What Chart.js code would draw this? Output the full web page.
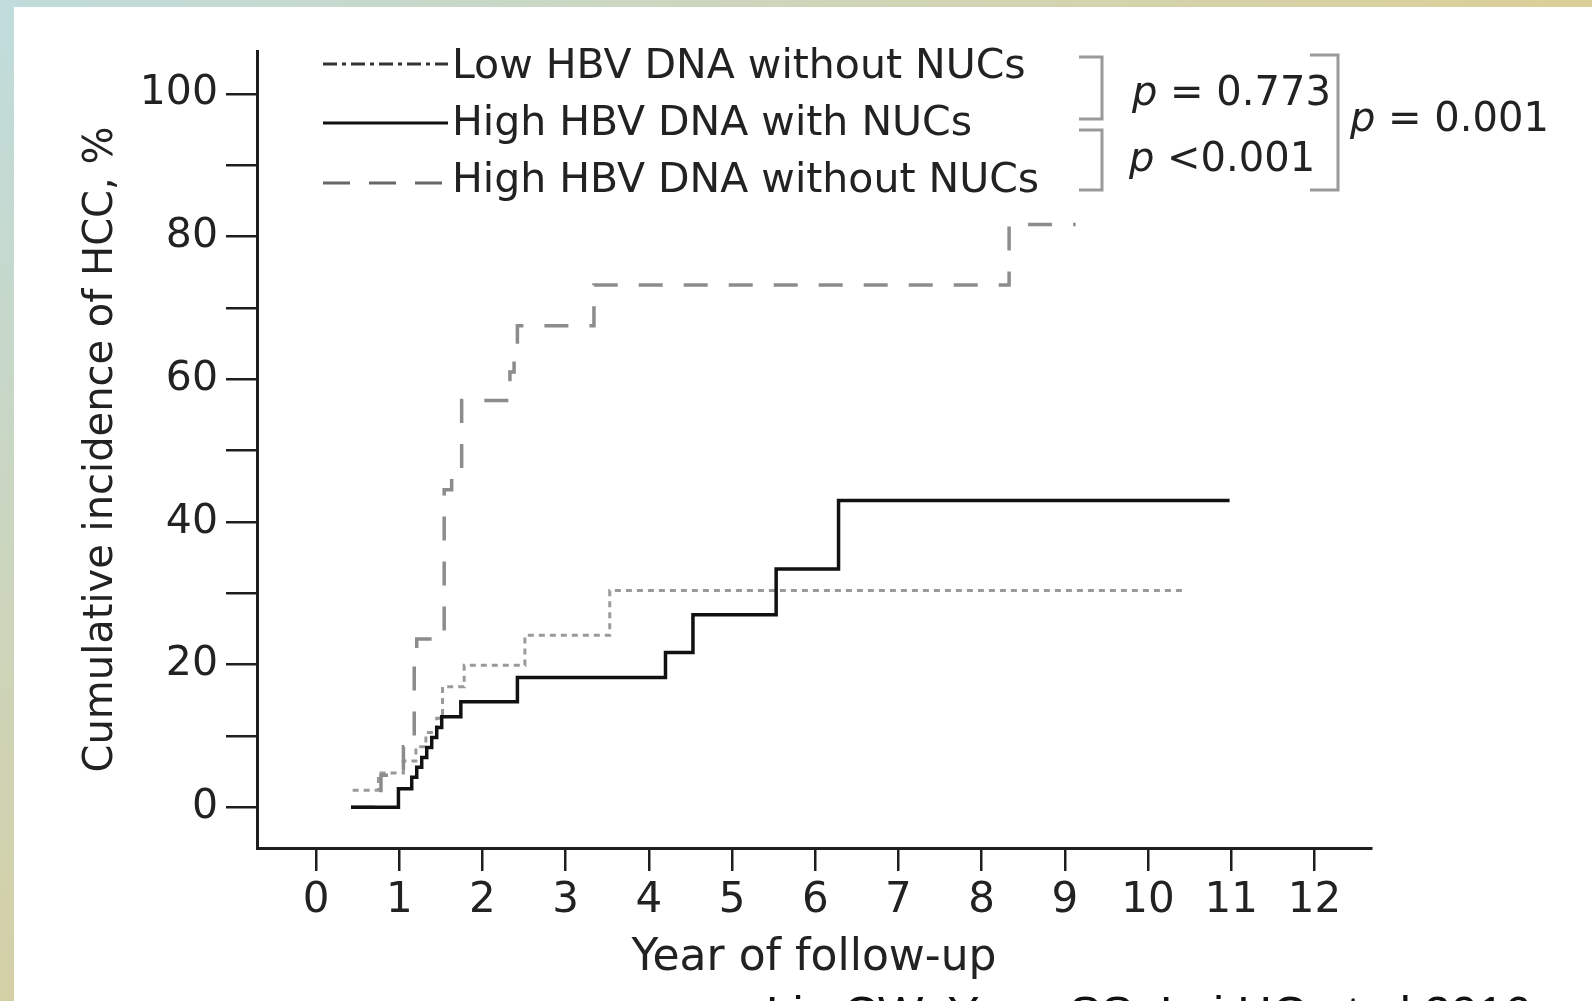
<!DOCTYPE html>
<html>
<head>
<meta charset="utf-8">
<script src="https://cdn.jsdelivr.net/npm/chart.js@4.4.1/dist/chart.umd.min.js"></script>
<style>
  html, body { margin: 0; padding: 0; background: #fff; overflow: hidden; }
  canvas { display: block; }
</style>
</head>
<body>
<canvas id="km" width="1592" height="1001"></canvas>
<script>
// series names (legend order)
var seriesNames = ['Low HBV DNA without NUCs', 'High HBV DNA with NUCs', 'High HBV DNA without NUCs'];

// Kaplan-Meier steps: year when the step happens, cumulative %
var lowNoNucYears = [0.44, 0.75, 1.05, 1.20, 1.32, 1.45, 1.52, 1.78, 2.51, 3.53, 10.42];
var lowNoNucPct   = [2.4, 4.8, 6.5, 8.5, 10.5, 12.5, 16.9, 19.9, 24.1, 30.4, 30.4];

var highNucYears = [0.42, 0.99, 1.15, 1.21, 1.27, 1.33, 1.39, 1.45, 1.51, 1.74, 2.42, 4.20, 4.53, 5.53, 6.28, 10.98];
var highNucPct   = [0, 2.6, 4.2, 5.6, 7.0, 8.4, 9.8, 11.2, 12.7, 14.8, 18.2, 21.7, 27.0, 33.4, 43.0, 43.0];

var highNoNucYears = [0.42, 0.78, 1.05, 1.18, 1.21, 1.54, 1.63, 1.75, 2.33, 2.38, 2.42, 3.34, 8.33, 9.13];
var highNoNucPct   = [0, 4.5, 8.5, 22.1, 23.6, 44.5, 46.6, 57.0, 61.0, 64.0, 67.5, 73.2, 81.7, 81.7];

var xTicks = [0, 1, 2, 3, 4, 5, 6, 7, 8, 9, 10, 11, 12];
var yTicks = [0, 10, 20, 30, 40, 50, 60, 70, 80, 90, 100];

var pValues = ['= 0.773', '<0.001', '= 0.001'];
var citation = 'Lin CW, Yang SS, Lai HC et al 2016';

function toPoints(xs, ys) {
  var pts = [];
  for (var i = 0; i < xs.length; i++) {
    pts.push({ x: xs[i], y: ys[i] });
  }
  return pts;
}

var FONT = 'DejaVu Sans';
var TEXT = '#222222';
var AXIS = '#1e1e1e';

// slide frame behind the figure
var framePlugin = {
  id: 'frame',
  beforeDraw: function(chart) {
    var c = chart.ctx, w = chart.width, h = chart.height;
    c.save();
    c.fillStyle = '#ffffff';
    c.fillRect(0, 0, w, h);
    var top = c.createLinearGradient(0, 0, w, 0);
    top.addColorStop(0, '#c0dcdc');
    top.addColorStop(1, '#dccf98');
    c.fillStyle = top;
    c.fillRect(0, 0, w, 7);
    var left = c.createLinearGradient(0, 0, 0, h);
    left.addColorStop(0, '#c0dcdc');
    left.addColorStop(1, '#d4d0a6');
    c.fillStyle = left;
    c.fillRect(0, 0, 14, h);
    c.restore();
  }
};

// legend, p-value brackets and citation
var notesPlugin = {
  id: 'notes',
  afterDraw: function(chart) {
    var c = chart.ctx;
    var ds = chart.data.datasets;
    c.save();

    // legend
    var lineY = [64, 123, 183];
    var textY = [78, 135, 192];
    var sample = [
      { color: '#333', dash: [14, 5, 4, 5] },
      { color: '#111', dash: [] },
      { color: '#666', dash: [27, 19] }
    ];
    for (var i = 0; i < ds.length; i++) {
      c.beginPath();
      c.strokeStyle = sample[i].color;
      c.lineWidth = 3;
      c.setLineDash(sample[i].dash);
      c.moveTo(323, lineY[i]);
      c.lineTo(448, lineY[i]);
      c.stroke();
      c.setLineDash([]);
      c.fillStyle = TEXT;
      c.font = '41px "' + FONT + '"';
      c.textBaseline = 'alphabetic';
      c.textAlign = 'left';
      c.fillText(ds[i].label, 452, textY[i]);
    }

    // brackets
    c.strokeStyle = '#9a9a9a';
    c.lineWidth = 3;
    function bracket(x0, x1, y0, y1) {
      c.beginPath();
      c.moveTo(x0, y0);
      c.lineTo(x1, y0);
      c.lineTo(x1, y1);
      c.lineTo(x0, y1);
      c.stroke();
    }
    bracket(1079, 1102, 57, 119);
    bracket(1079, 1102, 130, 190);
    bracket(1310, 1338, 55, 190);

    // p values
    function pText(str, x, y) {
      c.fillStyle = TEXT;
      c.font = 'italic 40px "' + FONT + '"';
      c.fillText('p', x, y);
      var w = c.measureText('p ').width;
      c.font = '40px "' + FONT + '"';
      c.fillText(str, x + w, y);
    }
    pText(pValues[0], 1132, 105);
    pText(pValues[1], 1129, 171);
    pText(pValues[2], 1350, 131);

    // citation (cut by the bottom edge)
    c.fillStyle = '#111';
    c.font = '48px "Liberation Sans"';
    c.fillText(citation, 766, 1030);

    c.restore();
  }
};

var ctx = document.getElementById('km');

var kmChart = new Chart(ctx, {
  type: 'line',
  data: {
    datasets: [
      {
        label: seriesNames[0],
        data: toPoints(lowNoNucYears, lowNoNucPct),
        borderColor: '#9a9a9a',
        borderWidth: 3,
        borderDash: [6, 5],
        stepped: 'before',
        pointRadius: 0,
        fill: false,
        order: 2
      },
      {
        label: seriesNames[1],
        data: toPoints(highNucYears, highNucPct),
        borderColor: '#111111',
        borderWidth: 3.5,
        stepped: 'before',
        pointRadius: 0,
        fill: false,
        order: 0
      },
      {
        label: seriesNames[2],
        data: toPoints(highNoNucYears, highNoNucPct),
        borderColor: '#8c8c8c',
        borderWidth: 3.5,
        borderDash: [24, 21],
        stepped: 'before',
        pointRadius: 0,
        fill: false,
        order: 1
      }
    ]
  },
  options: {
    responsive: false,
    animation: false,
    layout: { padding: { left: 78, top: 51, right: 221, bottom: 16 } },
    plugins: {
      legend: { display: false },
      tooltip: { enabled: false }
    },
    scales: {
      x: {
        type: 'linear',
        min: -0.71,
        max: 12.68,
        afterBuildTicks: function(axis) {
          axis.ticks = xTicks.map(function(v) { return { value: v }; });
        },
        afterFit: function(scale) { scale.height = 137; },
        grid: { drawOnChartArea: false, drawTicks: true, tickLength: 23, color: AXIS, lineWidth: 2.5 },
        border: { display: true, color: AXIS, width: 3 },
        ticks: {
          font: { family: FONT, size: 42 },
          color: TEXT,
          padding: 5,
          autoSkip: false,
          maxRotation: 0,
          callback: function(v) { return v; }
        },
        title: {
          display: true,
          text: 'Year of follow-up',
          font: { family: FONT, size: 44 },
          color: TEXT,
          padding: 0
        }
      },
      y: {
        type: 'linear',
        min: -5.7,
        max: 106,
        afterBuildTicks: function(axis) {
          axis.ticks = yTicks.map(function(v) { return { value: v }; });
        },
        afterFit: function(scale) { scale.width = 179; },
        grid: { drawOnChartArea: false, drawTicks: true, tickLength: 31, color: AXIS, lineWidth: 2.5 },
        border: { display: true, color: AXIS, width: 3 },
        ticks: {
          font: { family: FONT, size: 41 },
          color: TEXT,
          padding: 8,
          autoSkip: false,
          callback: function(v) { return v % 20 === 0 ? v : ''; }
        },
        title: {
          display: true,
          text: 'Cumulative incidence of HCC, %',
          font: { family: FONT, size: 40 },
          color: TEXT,
          padding: 0
        }
      }
    }
  },
  plugins: [framePlugin, notesPlugin]
});
</script>
</body>
</html>
